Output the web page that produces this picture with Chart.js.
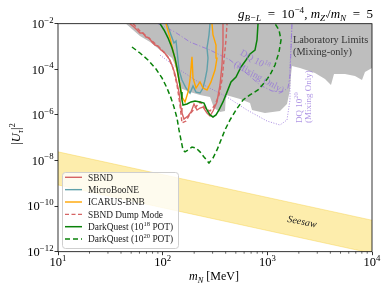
<!DOCTYPE html>
<html>
<head>
<meta charset="utf-8">
<script src="https://cdn.jsdelivr.net/npm/chart.js@4.4.1/dist/chart.umd.min.js"></script>
<style>
  html, body { margin: 0; padding: 0; background: #fff; }
  canvas { display: block; }
</style>
</head>
<body>
<canvas id="hnlChart" width="390" height="293"></canvas>
<script>
// axis ticks
const massTicks = [10, 100, 1000, 10000];
const massTickLabels = ['10^{1}', '10^{2}', '10^{3}', '10^{4}'];
const mixTicks = [1e-2, 1e-4, 1e-6, 1e-8, 1e-10, 1e-12];
const mixTickLabels = ['10^{−2}', '10^{−4}', '10^{−6}', '10^{−8}', '10^{−10}', '10^{−12}'];

// laboratory limits (lower edge of the grey region)
const labMass = [44.6, 52.1, 60.7, 75.7, 94.3, 112.4, 122.8, 131.2, 140.1, 146.4, 182.5, 227.4, 283.3, 309.3, 353.0, 394.0, 402.8, 548.2, 683.2, 713.9, 949.9, 1321, 1541, 1646, 1683, 1720, 2051, 2853, 3556, 4057, 4335, 5521, 6879, 8025, 8571, 10000];
const labMix = [1e-2, 5.3e-3, 2.9e-3, 1.57e-3, 7.0e-4, 4.2e-4, 3.1e-4, 1.55e-4, 5.6e-5, 1.5e-5, 1.0e-5, 7.5e-6, 6.1e-6, 2.0e-6, 1.34e-6, 1.48e-6, 7.5e-6, 5.0e-6, 3.3e-6, 1.64e-6, 1.21e-6, 1.48e-6, 3.0e-6, 1.24e-5, 5.6e-5, 1.4e-4, 1.14e-4, 6.9e-5, 3.8e-5, 2.05e-5, 6.2e-5, 6.2e-5, 5.1e-5, 3.4e-5, 7.6e-5, 1.14e-4];

// seesaw band
const seesawMass = [10, 10000];
const seesawUpper = [2.4e-8, 2.4e-11];
const seesawLower = [8.5e-10, 8.5e-13];

// DarkQuest mixing-only reach
const mix18Mass = [90.2, 131.2, 182.5, 283.3, 439.9, 611.9, 851.0, 1108, 1381, 1575, 1646, 1683, 1720];
const mix18Mix = [1e-2, 4.3e-3, 1.57e-3, 7.0e-4, 2.56e-4, 7.6e-5, 2.05e-5, 1.12e-5, 1.01e-5, 1.51e-5, 5.6e-5, 7.0e-4, 1e-2];
const mix20Mass = [94.3, 146.4, 227.4, 411.7, 639.3, 992.7, 1321, 1541, 1646, 1646, 1720];
const mix20Mix = [4.2e-4, 9.3e-5, 2.5e-5, 6.1e-6, 1.64e-6, 5.4e-7, 3.6e-7, 6.0e-7, 4.5e-6, 1.26e-4, 1e-2];

// experiment sensitivities
const sbndMass = [48.7, 53.2, 56.9, 60.7, 64.9, 69.3, 74.0, 79.1, 84.5, 90.2, 96.4, 103.0, 110.0, 117.5, 125.5, 131.2, 137.1, 143.2, 146.4, 149.7, 153.0, 159.9, 174.6, 186.6, 199.3, 212.8, 227.4, 242.9, 265.2, 283.3, 302.6, 330.4, 353.0, 368.8, 377.0, 377.0];
const sbndMix = [1e-2, 7.2e-3, 5.3e-3, 3.9e-3, 3.9e-3, 2.6e-3, 2.4e-3, 1.57e-3, 1.16e-3, 1.05e-3, 7.0e-4, 5.7e-4, 3.8e-4, 2.56e-4, 1.14e-4, 6.2e-5, 2.5e-5, 1.0e-5, 4.5e-6, 2.0e-6, 1.21e-6, 6.6e-7, 9.0e-7, 1.34e-6, 3.0e-6, 1.64e-6, 2.0e-6, 2.2e-6, 1.21e-6, 9.0e-7, 1.48e-6, 3.7e-6, 2.05e-5, 1.55e-4, 1.16e-3, 1e-2];
const booneMass = [110.0, 120.1, 128.3, 134.1, 137.1, 143.2, 153.0, 167.1, 182.5, 194.9, 208.2, 227.4, 242.9, 253.8, 265.2, 271.1, 265.2, 277.1, 283.3];
const booneMix = [1e-2, 3.2e-3, 1.42e-3, 1.74e-3, 7.0e-4, 9.3e-5, 3.4e-5, 1.51e-5, 9.1e-6, 1.85e-5, 1.0e-5, 9.1e-6, 1.51e-5, 3.4e-5, 9.3e-5, 3.1e-4, 8.6e-4, 3.2e-3, 1e-2];
const icarusMass = [107.6, 117.5, 128.3, 137.1, 146.4, 153.0, 163.5, 174.6, 182.5, 190.6, 194.9, 208.2, 227.4, 242.9, 265.2, 289.5, 316.2, 330.4, 323.3, 302.6, 296.0];
const icarusMix = [1e-2, 2.4e-3, 4.2e-4, 9.3e-5, 2.05e-5, 6.1e-6, 3.7e-6, 1.0e-5, 3.4e-5, 3.5e-4, 4.2e-5, 1.51e-5, 2.8e-5, 1.51e-5, 1.24e-5, 2.8e-5, 9.3e-5, 3.1e-4, 1.16e-3, 3.2e-3, 1e-2];
const dumpMass = [52.1, 60.7, 75.7, 94.3, 112.4, 125.5, 137.1, 146.4, 153.0, 167.1, 182.5, 203.7, 227.4, 253.8, 283.3, 316.2, 345.3, 368.8, 385.5, 402.8, 411.7];
const dumpMix = [1e-2, 4.8e-3, 2.1e-3, 8.6e-4, 3.5e-4, 1.14e-4, 2.05e-5, 2.7e-6, 4.4e-7, 5.4e-7, 1.09e-6, 2.0e-6, 3.7e-6, 2.0e-6, 1.48e-6, 2.7e-6, 7.5e-6, 3.4e-5, 2.56e-4, 1.93e-3, 1e-2];
const dq18Mass = [94.3, 103.0, 112.4, 122.8, 131.2, 137.1, 143.2, 149.7, 153.0, 156.4, 170.8, 186.6, 203.7, 227.4, 248.3, 265.2, 283.3, 302.6, 323.3, 345.3, 377.0, 411.7, 449.7, 501.9, 560.4, 625.5, 683.2, 762.3, 796.7, 814.4];
const dq18Mix = [1e-2, 5.3e-3, 2.4e-3, 8.6e-4, 3.1e-4, 1.14e-4, 3.4e-5, 1.0e-5, 4.5e-6, 2.7e-6, 3.0e-6, 3.7e-6, 4.1e-6, 3.7e-6, 3.3e-6, 1.64e-6, 9.9e-7, 8.1e-7, 9.9e-7, 1.64e-6, 3.7e-6, 1.0e-5, 2.8e-5, 4.6e-5, 1.26e-4, 2.56e-4, 4.7e-4, 7.0e-4, 1.93e-3, 1e-2];
const dq20Mass = [50.9, 60.7, 72.4, 86.4, 98.5, 110.0, 120.1, 128.3, 137.1, 143.2, 149.7, 156.4, 163.5, 174.6, 190.6, 208.2, 227.4, 248.3, 277.1, 302.6, 330.4, 360.8, 394.0, 439.9, 501.9, 585.6, 683.2, 814.4, 949.9, 1060, 1184, 1293, 1351, 1293, 1184];
const dq20Mix = [9.5e-4, 5.2e-4, 2.56e-4, 1.03e-4, 4.2e-5, 1.51e-5, 5.5e-6, 2.2e-6, 7.3e-7, 2.2e-7, 7.9e-8, 2.9e-8, 2.4e-8, 2.9e-8, 3.9e-8, 3.5e-8, 2.4e-8, 1.42e-8, 7.8e-9, 1.29e-8, 2.9e-8, 7.9e-8, 2.2e-7, 6.0e-7, 1.64e-6, 4.5e-6, 7.5e-6, 1.24e-5, 2.8e-5, 5.6e-5, 1.55e-4, 5.7e-4, 1.93e-3, 5.3e-3, 1e-2];

const SERIF = '"Liberation Serif", "Times New Roman", serif';
const PURPLE = 'rgba(147, 112, 219, 0.9)';
const PURPLE_TEXT = 'rgba(147, 112, 219, 0.75)';

function pts(xs, ys) {
    return xs.map((x, i) => ({ x: x, y: ys[i] }));
}

// minor ticks on the mass axis: 2..9 in each decade
const massMinorTicks = [];
for (const d of [10, 100, 1000]) {
    for (let k = 2; k <= 9; k++) massMinorTicks.push(k * d);
}

// "10^{18}" style strings -> segments
function parseRich(s) {
    const segs = [];
    let buf = '', i = 0;
    while (i < s.length) {
        const c = s[i];
        if ((c === '^' || c === '_') && s[i + 1] === '{') {
            if (buf) { segs.push({ t: buf }); buf = ''; }
            const j = s.indexOf('}', i);
            segs.push({ t: s.slice(i + 2, j), sup: c === '^', sub: c === '_' });
            i = j + 1;
        } else {
            buf += c;
            i++;
        }
    }
    if (buf) segs.push({ t: buf });
    return segs;
}

function drawRich(ctx, segs, x, y, size, align) {
    const fontOf = s => (s.it ? 'italic ' : '') + ((s.sup || s.sub) ? size * 0.7 : size) + 'px ' + SERIF;
    let w = 0;
    for (const s of segs) {
        ctx.font = fontOf(s);
        s.w = ctx.measureText(s.t).width;
        w += s.w;
    }
    let cx = align === 'right' ? x - w : align === 'center' ? x - w / 2 : x;
    ctx.textAlign = 'left';
    ctx.textBaseline = 'alphabetic';
    for (const s of segs) {
        ctx.font = fontOf(s);
        const dy = s.sup ? -size * 0.42 : s.sub ? size * 0.22 : 0;
        ctx.fillText(s.t, cx, y + dy);
        cx += s.w;
    }
    return w;
}

const decorations = {
    id: 'decorations',
    afterDatasetsDraw(chart) {
        const ctx = chart.ctx;
        const a = chart.chartArea;
        const xs = chart.scales.x;
        const ys = chart.scales.y;
        ctx.save();

        // frame
        ctx.strokeStyle = '#000';
        ctx.lineWidth = 0.8;
        ctx.strokeRect(a.left, a.top, a.right - a.left, a.bottom - a.top);

        // minor ticks
        ctx.lineWidth = 0.6;
        ctx.beginPath();
        for (const v of massMinorTicks) {
            const px = xs.getPixelForValue(v);
            ctx.moveTo(px, a.bottom);
            ctx.lineTo(px, a.bottom + 2);
        }
        ctx.stroke();

        // tick labels
        ctx.fillStyle = '#000';
        massTicks.forEach((v, i) => {
            drawRich(ctx, parseRich(massTickLabels[i]), xs.getPixelForValue(v), a.bottom + 14.5, 12.5, 'center');
        });
        mixTicks.forEach((v, i) => {
            drawRich(ctx, parseRich(mixTickLabels[i]), a.left - 4.5, ys.getPixelForValue(v) + 4.2, 12.5, 'right');
        });

        // axis titles
        drawRich(ctx, [{ t: 'm', it: true }, { t: 'N', it: true, sub: true }, { t: ' [MeV]' }], 214, 280, 12, 'center');
        ctx.save();
        ctx.translate(20, 134);
        ctx.rotate(-Math.PI / 2);
        drawRich(ctx, [{ t: '|' }, { t: 'U', it: true }, { t: 'τ', it: true, sub: true }, { t: '|' }, { t: '2', sup: true }], 0, 0, 12.5, 'center');
        ctx.restore();

        // header
        drawRich(ctx, [
            { t: 'g', it: true }, { t: 'B−L', it: true, sub: true }, { t: '\u2002=\u200210' }, { t: '−4', sup: true },
            { t: ', ' }, { t: 'm', it: true }, { t: 'Z′', it: true, sub: true }, { t: '/' },
            { t: 'm', it: true }, { t: 'N', it: true, sub: true }, { t: '\u2002=\u20025' }
        ], 373, 18, 13, 'right');

        // region labels
        ctx.fillStyle = '#333';
        drawRich(ctx, parseRich('Laboratory Limits'), 293, 43, 10.3, 'left');
        drawRich(ctx, parseRich('(Mixing-only)'), 293, 55, 10.3, 'left');

        ctx.save();
        ctx.translate(302, 222);
        ctx.rotate(11.2 * Math.PI / 180);
        ctx.fillStyle = '#222';
        ctx.font = 'italic 10px ' + SERIF;
        ctx.textAlign = 'center';
        ctx.textBaseline = 'middle';
        ctx.fillText('Seesaw', 0, 0);
        ctx.restore();

        ctx.fillStyle = PURPLE_TEXT;
        ctx.save();
        ctx.translate(241, 52);
        ctx.rotate(29 * Math.PI / 180);
        drawRich(ctx, parseRich('DQ 10^{18}'), 0, 3, 9.5, 'left');
        drawRich(ctx, parseRich('(Mixing Only)'), 0, 16, 9.5, 'left');
        ctx.restore();

        ctx.save();
        ctx.translate(298.5, 123);
        ctx.rotate(-Math.PI / 2);
        drawRich(ctx, parseRich('DQ 10^{20}'), 0, 3, 9, 'left');
        drawRich(ctx, parseRich('(Mixing Only)'), 0, 12, 9, 'left');
        ctx.restore();

        ctx.restore();
    },
    afterDraw(chart) {
        // legend box
        const ctx = chart.ctx;
        const items = chart.data.datasets.filter(d => d.legendRank).sort((p, q) => p.legendRank - q.legendRank);
        ctx.save();
        ctx.beginPath();
        ctx.roundRect(62.5, 172.5, 116, 76, 3);
        ctx.fillStyle = 'rgba(255,255,255,0.8)';
        ctx.fill();
        ctx.strokeStyle = '#cfcfcf';
        ctx.lineWidth = 1;
        ctx.stroke();
        items.forEach((d, i) => {
            const y = 177.3 + i * 12.35;
            ctx.beginPath();
            ctx.setLineDash(d.borderDash || []);
            ctx.strokeStyle = d.borderColor;
            ctx.lineWidth = d.borderWidth;
            ctx.moveTo(65, y);
            ctx.lineTo(82, y);
            ctx.stroke();
            ctx.setLineDash([]);
            ctx.fillStyle = '#222';
            drawRich(ctx, parseRich(d.label), 88, y + 3.3, 9.4, 'left');
        });
        ctx.restore();
    }
};

const RED = '#d66464';
const TEAL = '#5fa0aa';
const ORANGE = '#ffa500';
const GREEN = '#0a820a';

new Chart(document.getElementById('hnlChart'), {
    type: 'line',
    data: {
        datasets: [
            {
                label: 'SBND', legendRank: 1, data: pts(sbndMass, sbndMix),
                borderColor: RED, borderWidth: 1.4, order: 6
            },
            {
                label: 'MicroBooNE', legendRank: 2, data: pts(booneMass, booneMix),
                borderColor: TEAL, borderWidth: 1.4, order: 5
            },
            {
                label: 'ICARUS-BNB', legendRank: 3, data: pts(icarusMass, icarusMix),
                borderColor: ORANGE, borderWidth: 1.4, order: 4
            },
            {
                label: 'SBND Dump Mode', legendRank: 4, data: pts(dumpMass, dumpMix),
                borderColor: RED, borderWidth: 1.4, borderDash: [4, 2.5], order: 3
            },
            {
                label: 'DarkQuest (10^{18} POT)', legendRank: 5, data: pts(dq18Mass, dq18Mix),
                borderColor: GREEN, borderWidth: 1.5, order: 2
            },
            {
                label: 'DarkQuest (10^{20} POT)', legendRank: 6, data: pts(dq20Mass, dq20Mix),
                borderColor: GREEN, borderWidth: 1.5, borderDash: [5, 3], order: 1
            },
            {
                label: 'DQ 10^18 mixing only', data: pts(mix18Mass, mix18Mix),
                borderColor: PURPLE, borderWidth: 0.9, borderDash: [5, 2, 1, 2], order: 20
            },
            {
                label: 'DQ 10^20 mixing only', data: pts(mix20Mass, mix20Mix),
                borderColor: PURPLE, borderWidth: 0.9, borderDash: [1, 1.6], order: 21
            },
            {
                label: 'Laboratory limits', data: pts(labMass, labMix),
                borderColor: 'rgba(0,0,0,0)', borderWidth: 0, backgroundColor: '#bebebe',
                fill: 'end', order: 50
            },
            {
                label: 'Seesaw lower', data: pts(seesawMass, seesawLower),
                borderColor: 'rgba(245, 205, 60, 0.5)', borderWidth: 0.8, order: 40
            },
            {
                label: 'Seesaw', data: pts(seesawMass, seesawUpper),
                borderColor: 'rgba(245, 205, 60, 0.5)', borderWidth: 0.8,
                backgroundColor: 'rgba(252, 220, 90, 0.5)', fill: '-1', order: 41
            }
        ]
    },
    options: {
        responsive: false,
        devicePixelRatio: 1,
        animation: false,
        layout: {
            padding: { top: 23.7, right: 18, left: 0, bottom: 0 }
        },
        elements: {
            point: { radius: 0, hoverRadius: 0 },
            line: { tension: 0 }
        },
        plugins: {
            legend: { display: false },
            tooltip: { enabled: false }
        },
        scales: {
            x: {
                type: 'logarithmic',
                min: 10,
                max: 10000,
                afterBuildTicks: s => { s.ticks = massTicks.map(v => ({ value: v })); },
                afterFit: s => { s.height = 41.3; },
                ticks: { display: false },
                border: { display: false },
                grid: {
                    drawOnChartArea: false,
                    tickLength: 3.5,
                    tickColor: '#000',
                    tickWidth: 0.8
                }
            },
            y: {
                type: 'logarithmic',
                min: 1e-12,
                max: 1e-2,
                afterBuildTicks: s => { s.ticks = mixTicks.map(v => ({ value: v })); },
                afterFit: s => { s.width = 58; },
                ticks: { display: false },
                border: { display: false },
                grid: {
                    drawOnChartArea: false,
                    tickLength: 3.5,
                    tickColor: '#000',
                    tickWidth: 0.8
                }
            }
        }
    },
    plugins: [decorations]
});
</script>
</body>
</html>
